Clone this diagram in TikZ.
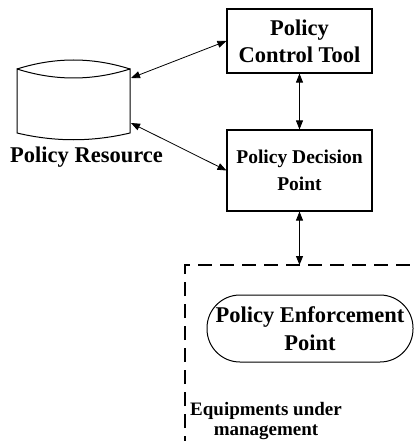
\documentclass[tikz,border=0pt]{standalone}
\usepackage{fontspec}
\setmainfont{Liberation Serif}
\usepackage{tikz}
\usetikzlibrary{arrows.meta}

\begin{document}
\begin{tikzpicture}[x=1pt,y=-1pt,
    box/.style={draw,line width=1.1pt,minimum width=145pt,align=center,font=\bfseries},
    link/.style={line width=0.8pt,{Triangle[length=9pt,width=7pt]}-{Triangle[length=9pt,width=7pt]}},
    frame/.style={line width=1.8pt,dash pattern=on 14pt off 8pt}]
            \clip (0,0) rectangle (414,441);
            % policy resource store
            \draw[line width=1pt] (17,69) .. controls (55,57) and (92,57) .. (130,69);
            \draw[line width=1pt] (17,69) .. controls (55,81) and (92,81) .. (130,69) -- (130,133)
                .. controls (92,142) and (55,142) .. (17,133) -- cycle;
            \coordinate (prtop) at (131,78);
            \coordinate (prbot) at (131,123);
            \node[font=\bfseries\fontsize{22.5}{27}\selectfont] (pr) at (86.5,157) {Policy Resource};
            \node[box,minimum height=64pt,font=\bfseries\fontsize{22.5}{27}\selectfont] (pct) at (299.5,41) {Policy\\Control Tool};
            \node[box,minimum height=81pt,font=\bfseries\fontsize{19.5}{26.5}\selectfont] (pdp) at (299.5,170.5) {Policy Decision\\Point};
            \draw[link] (prtop) -- (pct.west);
            \draw[link] (prbot) -- (pdp.west);
            \draw[link] (pct.south) -- (pdp.north);
            % equipments under management
            \coordinate (eqtop) at (299.5,265);
            \draw[frame] (185,450) -- (185,265) -- (430,265);
            \draw[link] (pdp.south) -- (eqtop);
            \node[draw,line width=1pt,rounded corners=33pt,minimum width=206pt,minimum height=67pt,align=center,
                font=\bfseries\fontsize{22.5}{28}\selectfont] (pep) at (310,328.5) {Policy Enforcement\\Point};
            \node[align=center,font=\bfseries\fontsize{19}{20}\selectfont] (eq) at (266,421) {Equipments under\\management};
        \end{tikzpicture}
\end{document}
